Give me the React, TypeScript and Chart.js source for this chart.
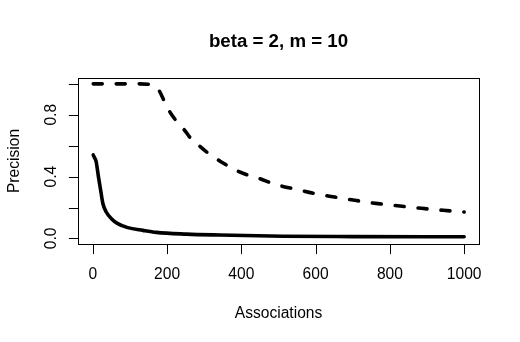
import React, { useEffect, useRef } from "react";
import { Chart, registerables } from "chart.js";

Chart.register(...registerables);

const titleText = "beta = 2, m = 10";
const xLabel = "Associations";
const yLabel = "Precision";

const xTicks = [0, 200, 400, 600, 800, 1000];
const yTicks = [0, 0.2, 0.4, 0.6, 0.8, 1.0];
const yTickLabels: Record<string, string> = { "0": "0.0", "0.4": "0.4", "0.8": "0.8" };

const solidX = [1, 5, 9, 15, 21, 27, 36, 50, 67, 94, 135, 171, 252, 341, 512, 700, 1000];
const solidY = [0.54, 0.52, 0.496, 0.4, 0.312, 0.226, 0.171, 0.128, 0.096, 0.07, 0.052, 0.039, 0.028, 0.022, 0.014, 0.012, 0.011];

const dashX = [1, 40, 80, 120, 158, 170, 180, 193, 207, 220, 234, 247, 263, 279, 306, 346, 395, 449, 494, 544, 598, 651, 710, 768, 827, 885, 943, 1000];
const dashY = [1, 1, 1, 1, 0.995, 0.98, 0.95, 0.885, 0.82, 0.775, 0.734, 0.7, 0.65, 0.615, 0.56, 0.495, 0.43, 0.387, 0.348, 0.32, 0.29, 0.268, 0.245, 0.225, 0.21, 0.195, 0.182, 0.171];

const FONT = "'Liberation Sans', Arial, sans-serif";

const rAxesPlugin = {
  id: "rAxes",
  afterDraw(chart: any) {
    const { ctx, chartArea } = chart;
    const xs = chart.scales.x;
    const ys = chart.scales.y;
    const { left, right, top, bottom } = chartArea;
    ctx.save();
    ctx.strokeStyle = "#000";
    ctx.fillStyle = "#000";
    ctx.lineWidth = 1;
    // box
    ctx.strokeRect(Math.round(left) + 0.5, Math.round(top) + 0.5, Math.round(right - left), Math.round(bottom - top));
    const tick = 9.6;
    // x ticks
    ctx.font = `15.6px ${FONT}`;
    ctx.textAlign = "center";
    ctx.textBaseline = "alphabetic";
    ctx.beginPath();
    for (const v of xTicks) {
      const px = Math.round(xs.getPixelForValue(v)) + 0.5;
      ctx.moveTo(px, Math.round(bottom) + 0.5);
      ctx.lineTo(px, Math.round(bottom) + 0.5 + tick);
    }
    ctx.stroke();
    for (const v of xTicks) {
      ctx.fillText(String(v), xs.getPixelForValue(v), 279);
    }
    // y ticks
    ctx.beginPath();
    for (const v of yTicks) {
      const py = Math.round(ys.getPixelForValue(v)) + 0.5;
      ctx.moveTo(Math.round(left) + 0.5, py);
      ctx.lineTo(Math.round(left) + 0.5 - tick, py);
    }
    ctx.stroke();
    for (const v of yTicks) {
      const lbl = yTickLabels[String(Math.round(v * 10) / 10)];
      if (!lbl) continue;
      ctx.save();
      ctx.translate(56, ys.getPixelForValue(v));
      ctx.rotate(-Math.PI / 2);
      ctx.fillText(lbl, 0, 0);
      ctx.restore();
    }
    const cx = (left + right) / 2;
    const cy = (top + bottom) / 2;
    // axis titles
    ctx.fillText(xLabel, cx, 317.7);
    ctx.save();
    ctx.translate(18.5, cy);
    ctx.rotate(-Math.PI / 2);
    ctx.fillText(yLabel, 0, 0);
    ctx.restore();
    // main title
    ctx.font = `bold 18.7px ${FONT}`;
    ctx.fillText(titleText, cx, 46.7);
    ctx.restore();
  },
};

export default function App() {
  const ref = useRef<HTMLCanvasElement | null>(null);
  useEffect(() => {
    document.body.style.margin = "0";
    const canvas = ref.current;
    if (!canvas) return;
    const chart = new Chart(canvas, {
      type: "line",
      data: {
        datasets: [
          {
            label: "solid",
            data: solidX.map((x, i) => ({ x, y: solidY[i] })),
            borderColor: "#000",
            borderWidth: 3.6,
            borderCapStyle: "round",
            borderJoinStyle: "round",
            pointRadius: 0,
            fill: false,
            cubicInterpolationMode: "monotone",
          },
          {
            label: "dashed",
            data: dashX.map((x, i) => ({ x, y: dashY[i] })),
            borderColor: "#000",
            borderWidth: 3.6,
            borderDash: [9, 14],
            borderCapStyle: "round",
            borderJoinStyle: "round",
            pointRadius: 0,
            fill: false,
            cubicInterpolationMode: "monotone",
          },
        ],
      },
      options: {
        animation: false,
        responsive: false,
        devicePixelRatio: 1,
        layout: { padding: { left: 78, top: 78, right: 41, bottom: 98 } },
        plugins: { legend: { display: false }, title: { display: false }, tooltip: { enabled: false } },
        scales: {
          x: { type: "linear", min: -40, max: 1040, display: false },
          y: { type: "linear", min: -0.036, max: 1.038, display: false },
        },
      },
      plugins: [rAxesPlugin],
    } as any);
    return () => chart.destroy();
  }, []);
  return (
    <div style={{ position: "fixed", left: 0, top: 0, width: 520, height: 342, background: "#fff" }}>
      <canvas ref={ref} width={520} height={342} style={{ width: 520, height: 342 }} />
    </div>
  );
}
